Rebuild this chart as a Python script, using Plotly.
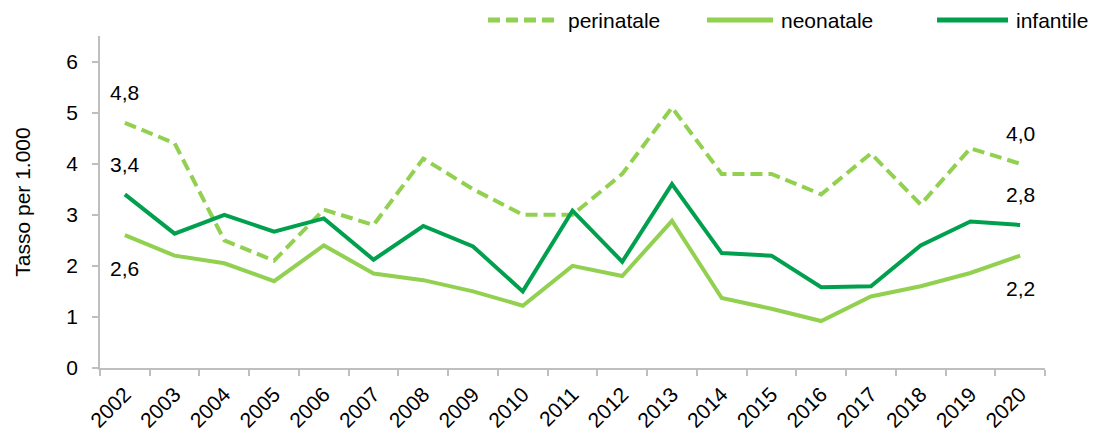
import plotly.graph_objects as go

# Rates per 1,000 births, 2002-2020
years = [str(y) for y in range(2002, 2021)]
perinatale = [4.8, 4.4, 2.5, 2.1, 3.1, 2.8, 4.1, 3.5, 3.0, 3.0, 3.8, 5.1, 3.8, 3.8, 3.4, 4.2, 3.2, 4.3, 4.0]
neonatale = [2.6, 2.2, 2.05, 1.7, 2.4, 1.85, 1.72, 1.5, 1.22, 2.0, 1.8, 2.88, 1.37, 1.16, 0.92, 1.4, 1.6, 1.86, 2.2]
infantile = [3.4, 2.63, 3.0, 2.67, 2.93, 2.12, 2.78, 2.38, 1.5, 3.08, 2.08, 3.6, 2.25, 2.2, 1.58, 1.6, 2.4, 2.87, 2.8]

LIGHT = "#92D050"
DARK = "#00A04E"
AXIS = "#BFBFBF"
FONT = "Liberation Sans, Arial, sans-serif"
FS = 21

series = [
    ("perinatale", perinatale, LIGHT, "12px,6px", 30),
    ("neonatale", neonatale, LIGHT, "solid", -33),
    ("infantile", infantile, DARK, "solid", 30),
]

fig = go.Figure()
for name, vals, color, dash, _ in series:
    fig.add_trace(go.Scatter(
        x=years, y=vals, name=name, mode="lines",
        line=dict(color=color, width=4, dash=dash),
        showlegend=False,
    ))

# Value labels on the first and last year of each series (category index positions)
annotations = []
for name, vals, color, dash, shift in series:
    for i in (0, len(vals) - 1):
        annotations.append(dict(
            x=i, y=vals[i], xref="x", yref="y",
            text=f"{vals[i]:.1f}".replace(".", ","),
            showarrow=False, yshift=shift,
            font=dict(family=FONT, size=FS, color="#000000"),
        ))

# Legend drawn above the plot area
W = 945.0
H = 332.0
legend_y = 1 + 16 / H
legend_items = [
    ("perinatale", LIGHT, "12px,6px", 388, 458, 466),
    ("neonatale", LIGHT, "solid", 607, 673, 679),
    ("infantile", DARK, "solid", 837, 908, 914),
]
shapes = []
for name, color, dash, x0, x1, xt in legend_items:
    shapes.append(dict(
        type="line", xref="paper", yref="paper",
        x0=x0 / W, x1=x1 / W, y0=legend_y, y1=legend_y,
        line=dict(color=color, width=5, dash=dash),
    ))
    annotations.append(dict(
        x=xt / W, y=legend_y, xref="paper", yref="paper",
        text=name, showarrow=False, xanchor="left", yanchor="middle",
        font=dict(family=FONT, size=FS, color="#000000"),
    ))

fig.update_layout(
    width=1093, height=432,
    margin=dict(l=100, r=48, t=36, b=64),
    paper_bgcolor="white", plot_bgcolor="white",
    font=dict(family=FONT, size=FS, color="#000000"),
    annotations=annotations,
    shapes=shapes,
    showlegend=False,
)
fig.update_xaxes(
    type="category", categoryorder="array", categoryarray=years,
    range=[-0.5, len(years) - 0.5], autorange=False, automargin=False,
    showgrid=False, zeroline=False,
    showline=True, linecolor=AXIS, linewidth=1.5,
    ticks="outside", tickson="boundaries", ticklen=6, tickcolor=AXIS, tickwidth=1.5,
    tickangle=-45, ticklabelstandoff=4, tickfont=dict(family=FONT, size=FS),
)
fig.update_yaxes(
    range=[0, 6.5], tickvals=[0, 1, 2, 3, 4, 5, 6], automargin=False,
    showgrid=False, zeroline=False,
    showline=True, linecolor=AXIS, linewidth=1.5,
    ticks="outside", ticklen=6, tickcolor=AXIS, tickwidth=1.5,
    ticklabelstandoff=10, tickfont=dict(family=FONT, size=FS),
    title=dict(text="Tasso per 1.000", font=dict(family=FONT, size=FS), standoff=30),
)

fig.write_html("out.html")
